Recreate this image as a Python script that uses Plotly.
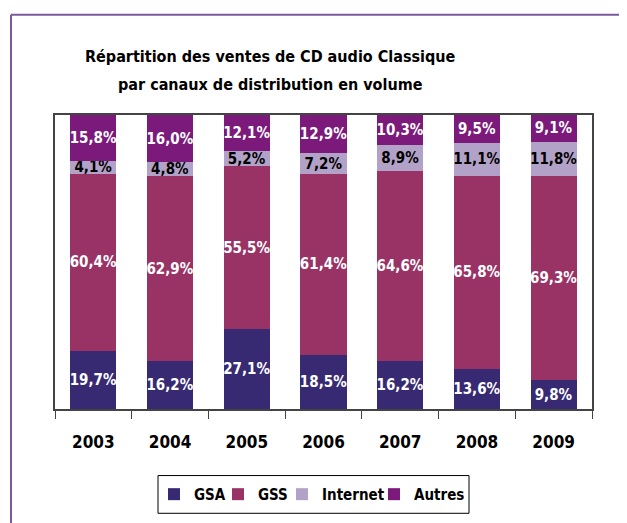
import plotly.graph_objects as go

years = ["2003", "2004", "2005", "2006", "2007", "2008", "2009"]
gsa = [19.7, 16.2, 27.1, 18.5, 16.2, 13.6, 9.8]
gss = [60.4, 62.9, 55.5, 61.4, 64.6, 65.8, 69.3]
internet = [4.1, 4.8, 5.2, 7.2, 8.9, 11.1, 11.8]
autres = [15.8, 16.0, 12.1, 12.9, 10.3, 9.5, 9.1]

series = [
    ("GSA", gsa, "#372a72", "white"),
    ("GSS", gss, "#993366", "white"),
    ("Internet", internet, "#b3a2c8", "black"),
    ("Autres", autres, "#7b1a7a", "white"),
]

FONT = "DejaVu Sans Condensed, sans-serif"

def fmt(v):
    return ("%.1f" % v).replace(".", ",") + "%"

# page has an 8px body margin: work in screen pixels, shift by OFF
OFF = 8
W, H = 627 - OFF, 523 - OFF
L, R, T, B = 55 - OFF, 592 - OFF, 115 - OFF, 411 - OFF

def px(x):
    return (x - OFF - L) / (R - L)

def py(y):
    return (B - (y - OFF)) / (B - T)

# screen x of each legend's left edge (one legend per series)
legend_left = [154, 218, 282, 374]
legend_names = ["legend", "legend2", "legend3", "legend4"]

fig = go.Figure()
for (name, vals, color, tcolor), lg in zip(series, legend_names):
    fig.add_trace(go.Bar(
        name=name, x=years, y=vals,
        marker=dict(color=color, line=dict(width=0)),
        text=[fmt(v) for v in vals],
        textposition="inside", insidetextanchor="middle",
        textangle=0, constraintext="none",
        textfont=dict(family=FONT, size=15, color=tcolor, weight="bold"),
        width=0.6,
        legend=lg,
    ))

title_font = dict(family=FONT, size=16, color="black", weight="bold")
legend_font = dict(family=FONT, size=15, color="black", weight="bold")

legends = {}
for lg, xl in zip(legend_names, legend_left):
    legends[lg] = dict(
        orientation="h", x=px(xl), xanchor="left", y=py(497), yanchor="middle",
        bgcolor="rgba(0,0,0,0)", borderwidth=0, font=legend_font, itemwidth=30,
    )

fig.update_layout(
    barmode="stack",
    width=W, height=H,
    margin=dict(l=L, r=W - R, t=T, b=H - B, pad=0),
    paper_bgcolor="white", plot_bgcolor="white",
    uniformtext=dict(minsize=15, mode="show"),
    font=dict(family=FONT, color="black"),
    showlegend=True,
    **legends,
    xaxis=dict(
        showline=True, linecolor="#444", linewidth=1.5, mirror=True,
        ticks="outside", ticklen=8, tickcolor="#444", tickson="boundaries",
        tickfont=dict(family=FONT, size=17, color="black", weight="bold"),
        ticklabelstandoff=17,
        showgrid=False,
    ),
    yaxis=dict(
        range=[0, 100], showline=True, linecolor="#444", linewidth=1.5, mirror=True,
        showticklabels=False, ticks="", showgrid=False, zeroline=False,
    ),
    annotations=[
        dict(text="Répartition des ventes de CD audio Classique", xref="paper", yref="paper",
             x=px(270), y=py(68), xanchor="center", yanchor="bottom", showarrow=False,
             font=title_font),
        dict(text="par canaux de distribution en volume", xref="paper", yref="paper",
             x=px(270), y=py(96), xanchor="center", yanchor="bottom", showarrow=False,
             font=title_font),
    ],
    shapes=[
        dict(type="line", xref="paper", yref="paper", x0=px(11), x1=px(640), y0=py(14), y1=py(14),
             line=dict(color="#7a5a9a", width=2)),
        dict(type="line", xref="paper", yref="paper", x0=px(11), x1=px(11), y0=py(14), y1=py(540),
             line=dict(color="#7a5a9a", width=2)),
        dict(type="rect", xref="paper", yref="paper", x0=px(158), x1=px(469), y0=py(478), y1=py(516),
             line=dict(color="black", width=1), fillcolor="rgba(0,0,0,0)"),
    ],
)

fig.write_html("out.html")
